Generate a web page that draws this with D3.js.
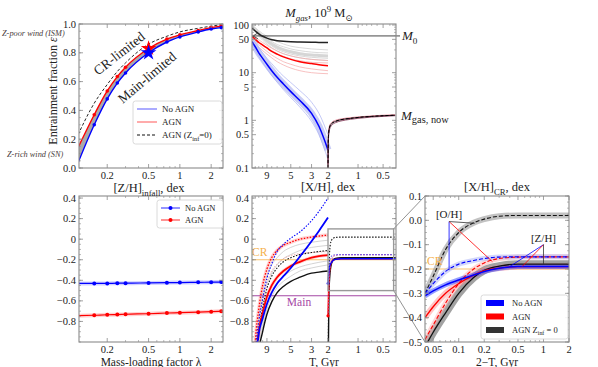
<!DOCTYPE html>
<html>
<head>
<meta charset="utf-8">
<script src="https://cdn.jsdelivr.net/npm/d3@7"></script>
<style>
  body { margin: 0; background: #fff; }
  text { font-family: "Liberation Serif", "DejaVu Serif", serif; }
</style>
</head>
<body>
<svg id="fig" width="598" height="367"></svg>
<script>
// ---------- data ----------
// top left: entrainment fraction vs mass loading
var lambdas   = [0.1, 0.15, 0.2, 0.25, 0.3, 0.5, 0.75, 1, 1.5, 2, 2.5];
var epsNoAGN  = [0.0, 0.30, 0.48, 0.59, 0.66, 0.80, 0.875, 0.91, 0.945, 0.965, 0.975];
var epsAGN    = [0.11, 0.37, 0.535, 0.635, 0.70, 0.83, 0.895, 0.925, 0.955, 0.975, 0.985];
var epsZ0     = [0.2, 0.45, 0.58, 0.67, 0.73, 0.86, 0.915, 0.945, 0.97, 0.985, 0.995];
var lambdaStar = 0.5;

// bottom left: infall metallicity
var zinfNoAGN = [-0.43, -0.43, -0.43, -0.428, -0.428, -0.425, -0.423, -0.422, -0.42, -0.418, -0.417];
var zinfAGN   = [-0.745, -0.74, -0.735, -0.733, -0.73, -0.725, -0.718, -0.715, -0.71, -0.705, -0.70];

// top middle: gas mass, T > 2 Gyr
var tmT      = [13, 12, 11, 10, 9, 8, 7, 6, 5, 4, 3, 2.5, 2];
var mgBlack  = [85, 75, 65, 58, 53, 49, 47, 45.5, 44.5, 44, 43.5, 43.2, 43];
var mgRed    = [57, 50, 43, 38, 33, 28, 24.5, 21.5, 19, 17, 15.5, 14.7, 14];
var mgBlue   = [45, 35, 26, 20, 15, 11, 8, 5.8, 4.0, 2.6, 1.4, 0.75, 0.24];
var mgGray1  = [100, 88, 76, 66, 58, 51, 45, 40, 36, 33.5, 31.5, 30.8, 30];
var mgGray2  = [97, 84, 71, 61, 52, 45, 39, 35, 31.5, 29, 27, 26.3, 26];
var mgGray3  = [94, 80, 67, 56, 47, 40, 34.5, 30.5, 27.5, 25, 23.5, 23, 22.5];
var mgGray4  = [91, 77, 63, 52, 43, 36.5, 31, 27.5, 24.5, 22.5, 21, 20.5, 20];
var mgGray5  = [88, 73, 59, 48, 40, 33.5, 28.5, 25, 22.5, 20.5, 19, 18.5, 18];
var mgPink1  = [66, 57, 49, 43, 37.5, 32.5, 28.5, 25, 22.5, 20.5, 19, 18.5, 18];
var mgPink2  = [61, 53, 45, 39, 33.5, 29, 25, 22, 19.5, 17.8, 16.5, 16.2, 16];
var mgPink3  = [54, 46, 39, 33, 28, 23.5, 20, 17, 15, 13.2, 12, 11.5, 11];
var mgPink4  = [50, 42, 35, 29, 24.5, 20.5, 17, 14.5, 12.5, 11, 10, 9.7, 9.5];
var mgLBlue1 = [52, 42, 33, 26, 20, 15.5, 11.5, 8.5, 6.2, 4.2, 2.4, 1.4, 0.5];
var mgLBlue2 = [40, 30, 22, 16.5, 12, 8.8, 6.3, 4.4, 3.0, 1.9, 0.95, 0.5, 0.15];
var mgM0 = 59;
// top middle: T < 2 Gyr
var tmRT     = [2, 1.99, 1.97, 1.93, 1.85, 1.7, 1.5, 1.2, 1.0, 0.7, 0.5, 0.33];
var mgNow    = [0.1, 0.35, 0.55, 0.72, 0.85, 0.95, 1.03, 1.1, 1.15, 1.21, 1.25, 1.28];
var mgNowHi  = [0.1, 0.42, 0.62, 0.78, 0.9, 1.0, 1.07, 1.14, 1.18, 1.24, 1.28, 1.31];
var mgNowLo  = [0.1, 0.28, 0.48, 0.65, 0.78, 0.89, 0.97, 1.05, 1.1, 1.17, 1.21, 1.25];

// bottom middle: [X/H], T > 2 Gyr (solid = Z/H, dotted = O/H)
var bmT      = [12.5, 12, 11, 10, 9, 8, 7, 6, 5, 4, 3, 2.5, 2];
var xhBlue   = [-1.6, -1.3, -0.92, -0.77, -0.63, -0.52, -0.43, -0.36, -0.28, -0.17, -0.02, 0.08, 0.21];
var xhBlueO  = [-1.5, -1.15, -0.8, -0.58, -0.38, -0.24, -0.12, -0.05, 0.01, 0.07, 0.18, 0.27, 0.40];
var xhRed    = [-1.7, -1.3, -0.9, -0.72, -0.56, -0.45, -0.37, -0.31, -0.26, -0.22, -0.18, -0.165, -0.155];
var xhRedO   = [-1.3, -1.0, -0.68, -0.45, -0.29, -0.18, -0.11, -0.06, -0.03, 0.0, 0.02, 0.03, 0.04];
var xhBlack  = [-2, -1.6, -1.1, -0.9, -0.73, -0.61, -0.52, -0.46, -0.41, -0.37, -0.33, -0.32, -0.31];
var xhBlackO = [-1.6, -1.25, -0.9, -0.67, -0.48, -0.36, -0.28, -0.22, -0.18, -0.15, -0.13, -0.12, -0.11];
var xhGray1  = [-1.4, -1.1, -0.75, -0.52, -0.36, -0.25, -0.18, -0.12, -0.08, -0.05, -0.03, -0.02, -0.01];
var xhGray2  = [-1.5, -1.2, -0.82, -0.6, -0.44, -0.33, -0.25, -0.19, -0.15, -0.11, -0.08, -0.07, -0.06];
var xhGray3  = [-1.8, -1.4, -1.0, -0.8, -0.63, -0.51, -0.42, -0.36, -0.31, -0.27, -0.24, -0.225, -0.21];
var xhGray4  = [-1.9, -1.5, -1.05, -0.85, -0.68, -0.56, -0.47, -0.41, -0.36, -0.31, -0.28, -0.265, -0.25];
var xhPink1  = [-1.5, -1.15, -0.8, -0.58, -0.42, -0.31, -0.24, -0.19, -0.16, -0.14, -0.13, -0.125, -0.12];
var xhCR = -0.2, xhMain = -0.55;

// bottom right: CR metallicity vs 2-T (also drawn at T < 2 in the middle panel)
var brDT        = [0.04, 0.05, 0.07, 0.1, 0.15, 0.2, 0.3, 0.5, 1, 2];
var brBlackDash = [-0.30, -0.23, -0.12, -0.05, -0.01, 0.005, 0.017, 0.02, 0.02, 0.02];
var brBlackSol  = [-0.52, -0.46, -0.38, -0.30, -0.235, -0.205, -0.188, -0.18, -0.18, -0.18];
var brBlueSol   = [-0.31, -0.29, -0.265, -0.245, -0.225, -0.21, -0.197, -0.19, -0.19, -0.19];
var brBlueDash  = [-0.30, -0.26, -0.21, -0.18, -0.165, -0.157, -0.151, -0.15, -0.15, -0.15];
var brRedSol    = [-0.40, -0.355, -0.30, -0.26, -0.225, -0.207, -0.196, -0.19, -0.19, -0.19];
var brRedDash   = [-0.49, -0.43, -0.34, -0.26, -0.20, -0.175, -0.157, -0.151, -0.15, -0.15];

// ---------- layout ----------
var svg = d3.select("#fig");
var defs = svg.append("defs");
var FRAME = "#8a8a8a", TXT = "#222";
var BLUE = "#0000ff", RED = "#ff0000";

var bTL = {x0: 79, x1: 223, y0: 24, y1: 168};
var bTM = {x0: 252, x1: 396, y0: 24, y1: 168};
var bBL = {x0: 79, x1: 223, y0: 196, y1: 342};
var bBM = {x0: 252, x1: 396, y0: 196, y1: 342};
var bBR = {x0: 425, x1: 569, y0: 196, y1: 342};

// scales
var xLam = d3.scaleLog().domain([0.107, 2.6]).range([bTL.x0, bTL.x1]);
var yEps = d3.scaleLinear().domain([0, 1]).range([bTL.y1, bTL.y0]);
var yZin = d3.scaleLinear().domain([-1.0, 0.42]).range([bBL.y1, bBL.y0]);
var xL = d3.scaleLog().domain([13, 2]).range([bTM.x0, 328]);
var SHIFT = 0.35;
var xR = d3.scaleLog().domain([2 + SHIFT, 0.32 + SHIFT]).range([328, bTM.x1]);
function xT(T) { return T >= 2 ? xL(T) : xR(T + SHIFT); }
var yMg = d3.scaleLog().domain([0.1, 105]).range([bTM.y1, bTM.y0]);
var yXH = d3.scaleLinear().domain([-1.0, 0.42]).range([bBM.y1, bBM.y0]);
var xDT = d3.scaleLog().domain([0.04, 2]).range([bBR.x0, bBR.x1]);
var yCR = d3.scaleLinear().domain([-0.5, 0.1]).range([bBR.y1, bBR.y0]);

function clipped(id, b) {
  defs.append("clipPath").attr("id", id).append("rect")
    .attr("x", b.x0).attr("y", b.y0).attr("width", b.x1 - b.x0).attr("height", b.y1 - b.y0);
  return svg.append("g").attr("clip-path", "url(#" + id + ")");
}

function axes(b, xt, yt) {
  var g = svg.append("g");
  function tk(x1, y1, x2, y2, w) {
    g.append("line").attr("x1", x1).attr("y1", y1).attr("x2", x2).attr("y2", y2)
      .attr("stroke", FRAME).attr("stroke-width", w || 0.8);
  }
  xt.maj.forEach(function(t) {
    tk(t[0], b.y1, t[0], b.y1 - 4); tk(t[0], b.y0, t[0], b.y0 + 4);
    g.append("text").attr("x", t[0]).attr("y", b.y1 + 11).attr("text-anchor", "middle")
      .attr("font-size", 10.5).attr("fill", TXT).text(t[1]);
  });
  xt.min.forEach(function(p) { tk(p, b.y1, p, b.y1 - 2, 0.6); tk(p, b.y0, p, b.y0 + 2, 0.6); });
  yt.maj.forEach(function(t) {
    tk(b.x0, t[0], b.x0 + 4, t[0]); tk(b.x1, t[0], b.x1 - 4, t[0]);
    g.append("text").attr("x", b.x0 - 3).attr("y", t[0] + 3.6).attr("text-anchor", "end")
      .attr("font-size", 10.5).attr("fill", TXT).text(t[1]);
  });
  yt.min.forEach(function(p) { tk(b.x0, p, b.x0 + 2, p, 0.6); tk(b.x1, p, b.x1 - 2, p, 0.6); });
  g.append("rect").attr("x", b.x0).attr("y", b.y0).attr("width", b.x1 - b.x0).attr("height", b.y1 - b.y0)
    .attr("fill", "none").attr("stroke", FRAME).attr("stroke-width", 1.1);
}

function rich(sel, x, y, parts, size, anchor, color, rot, subScale) {
  var t = sel.append("text").attr("x", x).attr("y", y).attr("font-size", size)
    .attr("text-anchor", anchor || "start").attr("fill", color || TXT);
  if (rot) t.attr("transform", "rotate(" + rot + "," + x + "," + y + ")");
  var shift = 0;
  parts.forEach(function(p) {
    var target = p[1] === "sub" ? size * 0.28 : p[1] === "sup" ? -size * 0.42 : 0;
    var ts = t.append("tspan").text(p[0]).attr("dy", target - shift);
    if (p[1]) ts.attr("font-size", size * (subScale || 0.7));
    if (p[2]) ts.attr("font-style", "italic");
    shift = target;
  });
  return t;
}

function pairs(xs, ys) { return xs.map(function(x, i) { return [x, ys[i]]; }); }
function lineGen(fx, fy) {
  return d3.line().x(function(d) { return fx(d[0]); }).y(function(d) { return fy(d[1]); }).curve(d3.curveMonotoneX);
}
function drawLine(g, data, fx, fy, color, w, dash, op) {
  var p = g.append("path").datum(data).attr("d", lineGen(fx, fy)).attr("fill", "none")
    .attr("stroke", color).attr("stroke-width", w);
  if (dash) p.attr("stroke-dasharray", dash);
  if (op != null) p.attr("stroke-opacity", op);
  return p;
}
function fmt1(v) { return Math.abs(v) < 1e-9 ? "0" : d3.format(".1f")(v); }
function range(a, b, s) { return d3.range(a, b + s / 2, s); }

// ================= top left =================
(function() {
  var g = clipped("cTL", bTL);
  var area = d3.area().x(function(d) { return xLam(d[0]); })
    .y0(function(d) { return yEps(d[1]); }).y1(function(d) { return yEps(d[2]); }).curve(d3.curveMonotoneX);
  g.append("path").datum(lambdas.map(function(l, i) { return [l, epsNoAGN[i], epsAGN[i]]; }))
    .attr("d", area).attr("fill", "#a9a9a9");
  drawLine(g, pairs(lambdas, epsZ0), xLam, yEps, "#111", 0.9, "3,2");
  drawLine(g, pairs(lambdas, epsAGN), xLam, yEps, RED, 1.4);
  drawLine(g, pairs(lambdas, epsNoAGN), xLam, yEps, BLUE, 1.4);
  [[epsAGN, RED], [epsNoAGN, BLUE]].forEach(function(s) {
    g.selectAll(null).data(pairs(lambdas, s[0])).enter().append("circle")
      .attr("cx", function(d) { return xLam(d[0]); }).attr("cy", function(d) { return yEps(d[1]); })
      .attr("r", 1.8).attr("fill", s[1]);
    var i = lambdas.indexOf(lambdaStar);
    g.append("path").attr("d", d3.symbol(d3.symbolStar).size(75)())
      .attr("transform", "translate(" + xLam(lambdaStar) + "," + yEps(s[0][i]) + ")").attr("fill", s[1]);
  });

  axes(bTL,
    {maj: [[0.2, "0.2"], [0.5, "0.5"], [1, "1"], [2, "2"]].map(function(t) { return [xLam(t[0]), t[1]]; }),
     min: [0.3, 0.4, 0.6, 0.7, 0.8, 0.9].map(xLam)},
    {maj: range(0, 1, 0.2).map(function(v) { return [yEps(v), d3.format(".1f")(v)]; }),
     min: range(0, 1, 0.05).map(yEps)});

  rich(svg, 57, 91, [["Entrainment fraction "], ["ε", null, true]], 12, "middle", TXT, -90);
  svg.append("text").attr("x", 2).attr("y", 36).attr("font-size", 8.3).attr("font-style", "italic")
    .attr("fill", "#4a4040").text("Z-poor wind (ISM)");
  svg.append("text").attr("x", 7).attr("y", 157).attr("font-size", 8.3).attr("font-style", "italic")
    .attr("fill", "#4a4040").text("Z-rich wind (SN)");
  svg.append("text").attr("x", 122).attr("y", 57).attr("font-size", 13.5).attr("text-anchor", "middle")
    .attr("transform", "rotate(-38,122,57)").attr("fill", TXT).text("CR-limited");
  svg.append("text").attr("x", 150).attr("y", 81).attr("font-size", 13.5).attr("text-anchor", "middle")
    .attr("transform", "rotate(-40,150,81)").attr("fill", TXT).text("Main-limited");

  // legend
  var lg = svg.append("g");
  lg.append("rect").attr("x", 133).attr("y", 101).attr("width", 89).attr("height", 43).attr("rx", 2.5)
    .attr("fill", "#fff").attr("fill-opacity", 0.85).attr("stroke", "#d0d0d0").attr("stroke-width", 0.8);
  [[BLUE, null, "No AGN"], [RED, null, "AGN"], ["#111", "3,2", "AGN (Z"]].forEach(function(e, i) {
    var y = 109 + i * 13;
    var l = lg.append("line").attr("x1", 137).attr("x2", 157).attr("y1", y).attr("y2", y)
      .attr("stroke", e[0]).attr("stroke-width", 1.1).attr("stroke-opacity", i < 2 ? 0.6 : 1);
    if (e[1]) l.attr("stroke-dasharray", e[1]);
    if (i < 2) lg.append("text").attr("x", 162).attr("y", y + 3).attr("font-size", 9).attr("fill", TXT).text(e[2]);
    else rich(lg, 162, y + 3, [["AGN (Z"], ["inf", "sub"], ["=0)"]], 9);
  });
})();

// ================= top middle =================
(function() {
  var g = clipped("cTM", bTM);
  [mgGray1, mgGray2, mgGray3, mgGray4, mgGray5].forEach(function(s) {
    drawLine(g, pairs(tmT, s), xT, yMg, "#c8c8c8", 0.7);
  });
  drawLine(g, pairs(tmT, mgGray3), xT, yMg, "#d6d6d6", 3);
  [mgPink1, mgPink2, mgPink3, mgPink4].forEach(function(s) {
    drawLine(g, pairs(tmT, s), xT, yMg, "#f4a6a6", 0.7);
  });
  drawLine(g, pairs(tmT, mgBlue), xT, yMg, "#c9cdf6", 7);
  [mgLBlue1, mgLBlue2].forEach(function(s) {
    drawLine(g, pairs(tmT, s), xT, yMg, "#aab2f2", 0.7);
  });
  drawLine(g, pairs(tmT, mgBlack), xT, yMg, "#222", 1.5);
  drawLine(g, pairs(tmT, mgRed), xT, yMg, RED, 1.5);
  drawLine(g, pairs(tmT, mgBlue), xT, yMg, BLUE, 1.5);

  drawLine(g, pairs(tmRT, mgNowHi), xT, yMg, "#e07a8a", 0.8);
  drawLine(g, pairs(tmRT, mgNowLo), xT, yMg, "#7a2a4a", 0.8);
  drawLine(g, pairs(tmRT, mgNow), xT, yMg, "#3a1020", 1.0);
  drawLine(g, pairs(tmRT, mgNow), xT, yMg, "#000", 1.0, "3,2");

  // M0 reference line, extends just past the frame
  svg.append("line").attr("x1", bTM.x0).attr("x2", 400).attr("y1", yMg(mgM0)).attr("y2", yMg(mgM0))
    .attr("stroke", "#333").attr("stroke-width", 0.9);
  svg.append("path").attr("d", "M" + (bTM.x0 + 6) + "," + (yMg(mgM0) - 3) + "L" + (bTM.x0 + 1) + "," + yMg(mgM0) +
    "L" + (bTM.x0 + 6) + "," + (yMg(mgM0) + 3)).attr("fill", "none").attr("stroke", "#333").attr("stroke-width", 0.8);

  axes(bTM,
    {maj: [[9, "9"], [5, "5"], [3, "3"], [2, "2"], [1, "1"], [0.5, "0.5"]].map(function(t) { return [xT(t[0]), t[1]]; }),
     min: [12, 11, 10, 8, 7, 6, 4, 0.9, 0.8, 0.7, 0.6, 0.4].map(xT)},
    {maj: [100, 50, 10, 5, 1, 0.5, 0.1].map(function(v) { return [yMg(v), String(v)]; }),
     min: [0.2, 0.3, 0.4, 0.6, 0.7, 0.8, 0.9, 2, 3, 4, 6, 7, 8, 9, 20, 30, 40, 60, 70, 80, 90].map(yMg)});

  rich(svg, 319, 17, [["M", null, true], ["gas", "sub", true], [", 10"], ["9", "sup"], [" M"], ["⊙", "sub"]], 12.5, "middle");
  rich(svg, 402, yMg(mgM0) + 4.5, [["M", null, true], ["0", "sub"]], 13);
  rich(svg, 401, yMg(mgNow[mgNow.length - 1]) + 4.5, [["M", null, true], ["gas, now", "sub"]], 13, "start", TXT, 0, 0.8);
})();

// ================= bottom left =================
(function() {
  var g = clipped("cBL", bBL);
  [[zinfNoAGN, BLUE], [zinfAGN, RED]].forEach(function(s) {
    drawLine(g, pairs(lambdas, s[0]), xLam, yZin, s[1], 4, null, 0.18);
    drawLine(g, pairs(lambdas, s[0]), xLam, yZin, s[1], 1.2);
    g.selectAll(null).data(pairs(lambdas, s[0])).enter().append("circle")
      .attr("cx", function(d) { return xLam(d[0]); }).attr("cy", function(d) { return yZin(d[1]); })
      .attr("r", 2).attr("fill", s[1]);
  });
  axes(bBL,
    {maj: [[0.2, "0.2"], [0.5, "0.5"], [1, "1"], [2, "2"]].map(function(t) { return [xLam(t[0]), t[1]]; }),
     min: [0.3, 0.4, 0.6, 0.7, 0.8, 0.9].map(xLam)},
    {maj: range(-0.8, 0.4, 0.2).map(function(v) { return [yZin(v), fmt1(v)]; }),
     min: range(-1.0, 0.4, 0.05).map(yZin)});
  rich(svg, 149, 192, [["[Z/H]"], ["infall", "sub"], [", dex"]], 12.5, "middle");
  svg.append("text").attr("x", 151).attr("y", 366).attr("text-anchor", "middle").attr("font-size", 11.5)
    .attr("fill", TXT).text("Mass-loading factor λ");

  var lg = svg.append("g");
  lg.append("rect").attr("x", 157).attr("y", 200).attr("width", 66).attr("height", 28).attr("rx", 2.5)
    .attr("fill", "#fff").attr("stroke", "#d0d0d0").attr("stroke-width", 0.8);
  [[BLUE, "No AGN"], [RED, "AGN"]].forEach(function(e, i) {
    var y = 208 + i * 12;
    lg.append("line").attr("x1", 161).attr("x2", 180).attr("y1", y).attr("y2", y)
      .attr("stroke", e[0]).attr("stroke-width", 1.2).attr("stroke-opacity", 0.7);
    lg.append("circle").attr("cx", 170.5).attr("cy", y).attr("r", 2).attr("fill", e[0]);
    lg.append("text").attr("x", 185).attr("y", y + 3).attr("font-size", 8.5).attr("fill", TXT).text(e[1]);
  });
})();

// ================= bottom middle =================
(function() {
  var g = clipped("cBM", bBM);
  [xhGray1, xhGray2, xhGray3, xhGray4].forEach(function(s) {
    drawLine(g, pairs(bmT, s), xT, yXH, "#c8c8c8", 0.8);
  });
  drawLine(g, pairs(bmT, xhPink1), xT, yXH, "#f2a0a0", 0.8, "1.5,1.5");
  drawLine(g, pairs(bmT, xhRedO), xT, yXH, "#ffb4b4", 3.5, null, 0.6);
  drawLine(g, pairs(bmT, xhRed), xT, yXH, "#ffb4b4", 3.5, null, 0.6);

  // reference levels
  g.append("line").attr("x1", bBM.x0).attr("x2", bBM.x1).attr("y1", yXH(xhCR)).attr("y2", yXH(xhCR))
    .attr("stroke", "#f7b24a").attr("stroke-width", 1.2).attr("stroke-opacity", 0.8);
  g.append("line").attr("x1", bBM.x0).attr("x2", bBM.x1).attr("y1", yXH(xhMain)).attr("y2", yXH(xhMain))
    .attr("stroke", "#a547a5").attr("stroke-width", 1.1);

  drawLine(g, pairs(bmT, xhBlack), xT, yXH, "#111", 1.4);
  drawLine(g, pairs(bmT, xhBlackO), xT, yXH, "#111", 1.1, "1.5,1.5");
  drawLine(g, pairs(bmT, xhRed), xT, yXH, RED, 1.8);
  drawLine(g, pairs(bmT, xhRedO), xT, yXH, RED, 1.3, "1.5,1.5");
  drawLine(g, pairs(bmT, xhBlue), xT, yXH, BLUE, 1.8);
  drawLine(g, pairs(bmT, xhBlueO), xT, yXH, BLUE, 1.1, "1.5,1.5");

  // T < 2: start at the infall metallicity at T = 2
  function after(start, ys) {
    return [[2, start]].concat(brDT.map(function(dt, i) { return [2 - dt, ys[i]]; }));
  }
  var bNoAGN = zinfNoAGN[0], bAGN = zinfAGN[0];
  drawLine(g, after(-1.5, brBlackSol), xT, yXH, "#111", 1.4);
  drawLine(g, after(-1.5, brBlackDash), xT, yXH, "#111", 1.1, "1.5,1.5");
  drawLine(g, after(bAGN, brRedSol), xT, yXH, RED, 1.4);
  drawLine(g, after(bAGN, brRedDash), xT, yXH, "#d0408a", 1.1, "1.5,1.5");
  drawLine(g, after(bNoAGN, brBlueSol), xT, yXH, BLUE, 1.4);
  drawLine(g, after(bNoAGN, brBlueDash), xT, yXH, "#6a5af0", 1.1, "1.5,1.5");
  g.append("circle").attr("cx", xT(2)).attr("cy", yXH(bAGN)).attr("r", 1.6).attr("fill", RED);
  g.append("circle").attr("cx", xT(2)).attr("cy", yXH(bNoAGN)).attr("r", 1.4).attr("fill", BLUE);

  // zoom box
  var ix0 = xT(2), ix1 = xT(0.35), iy0 = yXH(0.1), iy1 = yXH(-0.5);
  svg.append("rect").attr("x", ix0).attr("y", iy0).attr("width", ix1 - ix0).attr("height", iy1 - iy0)
    .attr("fill", "none").attr("stroke", "#999").attr("stroke-width", 1.4);
  svg.append("line").attr("x1", ix1).attr("y1", iy0).attr("x2", bBR.x0).attr("y2", bBR.y0)
    .attr("stroke", "#777").attr("stroke-width", 0.8);
  svg.append("line").attr("x1", ix1).attr("y1", iy1).attr("x2", bBR.x0).attr("y2", bBR.y1)
    .attr("stroke", "#777").attr("stroke-width", 0.8);

  svg.append("text").attr("x", 252).attr("y", yXH(xhCR) - 4).attr("font-size", 11.5).attr("fill", "#f5b04a").text("CR");
  svg.append("text").attr("x", 299).attr("y", yXH(xhMain) + 10).attr("text-anchor", "middle").attr("font-size", 11.5)
    .attr("fill", "#a547a5").text("Main");

  axes(bBM,
    {maj: [[9, "9"], [5, "5"], [3, "3"], [2, "2"], [1, "1"], [0.5, "0.5"]].map(function(t) { return [xT(t[0]), t[1]]; }),
     min: [12, 11, 10, 8, 7, 6, 4, 0.9, 0.8, 0.7, 0.6, 0.4].map(xT)},
    {maj: range(-0.8, 0.4, 0.2).map(function(v) { return [yXH(v), fmt1(v)]; }),
     min: range(-1.0, 0.4, 0.05).map(yXH)});
  svg.append("text").attr("x", 328).attr("y", 191).attr("text-anchor", "middle").attr("font-size", 12.5)
    .attr("fill", TXT).text("[X/H], dex");
  svg.append("text").attr("x", 324).attr("y", 366).attr("text-anchor", "middle").attr("font-size", 11.5)
    .attr("fill", TXT).text("T, Gyr");
})();

// ================= bottom right =================
(function() {
  var g = clipped("cBR", bBR);
  g.append("line").attr("x1", bBR.x0).attr("x2", bBR.x1).attr("y1", yCR(xhCR)).attr("y2", yCR(xhCR))
    .attr("stroke", "#f7b24a").attr("stroke-width", 1.2).attr("stroke-opacity", 0.8);

  drawLine(g, pairs(brDT, brBlackDash), xDT, yCR, "#9a9a9a", 6, null, 0.6);
  drawLine(g, pairs(brDT, brBlackSol), xDT, yCR, "#555", 8, null, 0.55);
  drawLine(g, pairs(brDT, brRedSol), xDT, yCR, "#ff9090", 6, null, 0.5);
  drawLine(g, pairs(brDT, brRedDash), xDT, yCR, "#ffb0b0", 5, null, 0.5);
  drawLine(g, pairs(brDT, brBlueDash), xDT, yCR, "#a8b0f8", 5, null, 0.5);
  drawLine(g, pairs(brDT, brBlueSol), xDT, yCR, "#4050ff", 5, null, 0.55);

  drawLine(g, pairs(brDT, brBlackDash), xDT, yCR, "#111", 1.1, "4,2");
  drawLine(g, pairs(brDT, brBlackSol), xDT, yCR, "#111", 1.3);
  drawLine(g, pairs(brDT, brRedSol), xDT, yCR, RED, 1.3);
  drawLine(g, pairs(brDT, brRedDash), xDT, yCR, RED, 1.1, "4,2");
  drawLine(g, pairs(brDT, brBlueDash), xDT, yCR, BLUE, 1.1, "4,2");
  drawLine(g, pairs(brDT, brBlueSol), xDT, yCR, BLUE, 1.5);

  // annotations
  var ann = svg.append("g");
  function seg(a, b, c) {
    ann.append("line").attr("x1", xDT(a[0])).attr("y1", yCR(a[1])).attr("x2", xDT(b[0])).attr("y2", yCR(b[1]))
      .attr("stroke", c).attr("stroke-width", 0.8);
  }
  var oh = [0.077, -0.005], zh = [1.0, -0.1];
  seg(oh, [0.077, -0.205], BLUE);
  seg(oh, [0.25, -0.17], RED);
  seg(oh, [0.155, -0.012], "#333");
  seg(zh, [0.4, -0.19], BLUE);
  seg(zh, [0.56, -0.19], RED);
  seg(zh, [1.0, -0.18], "#333");
  svg.append("text").attr("x", xDT(oh[0])).attr("y", yCR(oh[1]) - 4).attr("text-anchor", "middle")
    .attr("font-size", 11).attr("fill", TXT).text("[O/H]");
  svg.append("text").attr("x", xDT(zh[0])).attr("y", yCR(zh[1]) - 3).attr("text-anchor", "middle")
    .attr("font-size", 11).attr("fill", TXT).text("[Z/H]");
  svg.append("text").attr("x", 427).attr("y", yCR(xhCR) - 4).attr("font-size", 11.5).attr("fill", "#f5b04a").text("CR");

  axes(bBR,
    {maj: [[0.05, "0.05"], [0.1, "0.1"], [0.2, "0.2"], [0.5, "0.5"], [1, "1"], [2, "2"]].map(function(t) { return [xDT(t[0]), t[1]]; }),
     min: [0.06, 0.07, 0.08, 0.09, 0.3, 0.4, 0.6, 0.7, 0.8, 0.9].map(xDT)},
    {maj: range(-0.5, 0.1, 0.1).map(function(v) { return [yCR(v), d3.format(".1f")(v)]; }),
     min: range(-0.5, 0.1, 0.025).map(yCR)});
  rich(svg, 497, 191, [["[X/H]"], ["CR", "sub"], [", dex"]], 12.5, "middle");
  svg.append("text").attr("x", 497).attr("y", 366).attr("text-anchor", "middle").attr("font-size", 11.5)
    .attr("fill", TXT).text("2−T, Gyr");

  // legend
  var lg = svg.append("g");
  lg.append("rect").attr("x", 481).attr("y", 295).attr("width", 87).attr("height", 44).attr("rx", 2.5)
    .attr("fill", "#fff").attr("fill-opacity", 0.9).attr("stroke", "#d0d0d0").attr("stroke-width", 0.8);
  [[BLUE, "No AGN"], [RED, "AGN"], ["#333", "AGN Z"]].forEach(function(e, i) {
    var y = 303 + i * 13.5;
    lg.append("rect").attr("x", 486).attr("y", y - 3).attr("width", 18).attr("height", 6).attr("fill", e[0]);
    if (i < 2) lg.append("text").attr("x", 512).attr("y", y + 3).attr("font-size", 8.5).attr("fill", TXT).text(e[1]);
    else rich(lg, 512, y + 3, [["AGN Z"], ["inf", "sub"], [" = 0"]], 8.5);
  });
})();
</script>
</body>
</html>
